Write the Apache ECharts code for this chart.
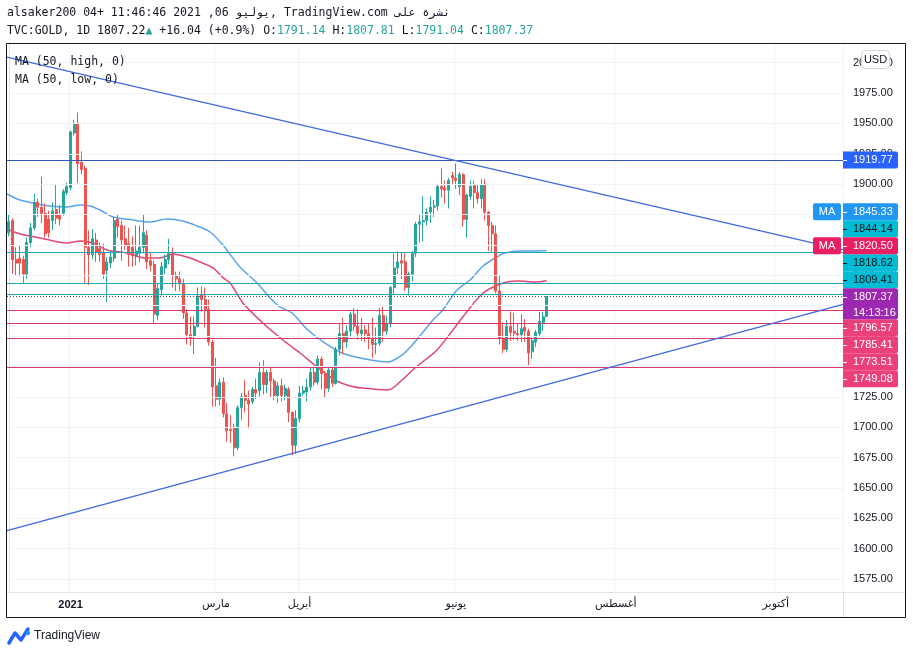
<!DOCTYPE html>
<html>
<head>
<meta charset="utf-8">
<script src="https://cdn.jsdelivr.net/npm/echarts@6/dist/echarts.min.js"></script>
<style>
  html, body { margin: 0; padding: 0; background: #fff; }
  #chart { width: 913px; height: 655px; }
</style>
</head>
<body>
<div id="chart"></div>
<script>
// daily candles TVC:GOLD, 2020-12-08 .. 2021-07-06  [open, close, low, high]
const ohlc = [
  [1860,1869,1857,1875],[1870,1838,1826,1872],[1838,1835,1825,1848],[1839,1835,1824,1849],
  [1838,1826,1818,1841],[1826,1852,1822,1856],[1852,1864,1848,1868],[1864,1885,1862,1892],
  [1885,1881,1873,1888],[1881,1876,1868,1906],[1876,1859,1856,1884],[1871,1860,1856,1878],
  [1870,1878,1862,1885],[1879,1872,1867,1900],[1875,1871,1866,1883],[1876,1894,1874,1896],
  [1893,1898,1891,1901],[1897,1943,1895,1944],[1942,1950,1940,1953],[1950,1917,1901,1959],
  [1918,1912,1908,1927],[1913,1848,1818,1915],[1848,1842,1817,1862],[1842,1855,1838,1863],
  [1854,1844,1836,1860],[1847,1842,1836,1852],[1844,1826,1822,1851],[1829,1836,1803,1840],
  [1835,1840,1831,1845],[1839,1870,1836,1873],[1871,1865,1856,1875],[1866,1854,1837,1870],
  [1855,1850,1846,1866],[1851,1842,1832,1864],[1848,1841,1832,1857],[1841,1845,1833,1866],
  [1843,1848,1836,1866],[1848,1860,1843,1875],[1858,1836,1830,1862],[1837,1833,1828,1844],
  [1834,1793,1785,1837],[1792,1814,1788,1818],[1813,1832,1808,1836],[1831,1838,1826,1842],
  [1838,1843,1834,1855],[1843,1825,1815,1848],[1825,1822,1812,1828],[1822,1818,1812,1828],
  [1818,1794,1789,1822],[1794,1776,1768,1797],[1776,1773,1767,1791],[1775,1783,1760,1791],
  [1783,1808,1782,1815],[1809,1805,1795,1816],[1805,1797,1782,1815],[1797,1770,1767,1805],
  [1770,1733,1717,1772],[1734,1723,1717,1757],[1723,1737,1718,1740],[1737,1711,1708,1741],
  [1711,1697,1688,1720],[1698,1697,1687,1710],[1700,1683,1676,1703],[1683,1716,1681,1718],
  [1716,1725,1706,1728],[1726,1722,1712,1739],[1722,1719,1699,1730],[1721,1731,1719,1733],
  [1731,1728,1723,1740],[1730,1745,1725,1753],[1745,1735,1727,1755],[1735,1745,1728,1747],
  [1745,1738,1725,1749],[1738,1726,1722,1740],[1726,1734,1720,1737],[1734,1726,1721,1740],
  [1726,1732,1722,1735],[1731,1712,1704,1733],[1712,1685,1677,1713],[1685,1707,1678,1714],
  [1707,1728,1704,1734],[1728,1730,1726,1734],[1729,1733,1721,1740],[1733,1745,1730,1750],
  [1745,1737,1734,1749],[1737,1756,1735,1759],[1756,1744,1731,1758],[1744,1732,1724,1746],
  [1732,1747,1729,1749],[1747,1736,1733,1750],[1736,1764,1735,1766],[1764,1777,1759,1785],
  [1777,1770,1760,1790],[1770,1779,1765,1784],[1779,1793,1774,1795],[1793,1783,1779,1798],
  [1783,1777,1772,1797],[1777,1780,1771,1790],[1780,1777,1770,1784],[1777,1773,1764,1785],
  [1773,1768,1757,1790],[1768,1769,1760,1782],[1769,1792,1767,1798],[1792,1779,1770,1799],
  [1779,1785,1776,1792],[1785,1815,1782,1816],[1815,1831,1809,1843],[1831,1836,1826,1845],
  [1837,1835,1822,1844],[1836,1815,1812,1843],[1815,1826,1808,1828],[1826,1843,1820,1845],
  [1843,1867,1840,1869],[1867,1869,1852,1875],[1869,1870,1853,1890],[1870,1877,1866,1880],
  [1877,1881,1868,1890],[1881,1882,1873,1887],[1882,1898,1878,1900],[1898,1896,1889,1913],
  [1897,1895,1884,1903],[1895,1903,1880,1905],[1907,1905,1900,1910],[1905,1903,1896,1917],
  [1898,1908,1891,1910],[1908,1871,1865,1909],[1871,1891,1856,1892],[1890,1898,1887,1903],
  [1899,1893,1880,1903],[1893,1888,1884,1900],[1888,1899,1880,1904],[1899,1877,1870,1904],
  [1877,1866,1845,1878],[1866,1859,1844,1869],[1859,1812,1810,1866],[1812,1773,1768,1825],
  [1773,1764,1761,1786],[1764,1783,1762,1788],[1783,1778,1771,1795],[1779,1777,1772,1794],
  [1777,1776,1771,1785],[1776,1781,1770,1793],[1782,1779,1770,1789],[1779,1761,1751,1781],
  [1762,1771,1756,1774],[1770,1778,1766,1780],[1777,1787,1774,1795],[1786,1791,1779,1795],
  [1791.14,1807.37,1791.04,1807.81]
];

// MA(50, high) and MA(50, low): [bar index, value]
const maHigh = [
  [-0.5,1891.9],[3.1,1886.9],[6.7,1884.5],[11.3,1882],[16,1881.2],[19.6,1882.8],[22.3,1882],
  [25.1,1878.7],[28.7,1872.9],[34.2,1870.5],[38.8,1868.8],[43.5,1871.3],[47.9,1869.6],
  [51.8,1865.5],[55.4,1860.6],[58.9,1849.9],[63.6,1831.8],[68.3,1818.6],[71.9,1806.3],
  [74.6,1798.9],[77.9,1793.9],[82.3,1779.9],[87,1769.2],[91.7,1761],[98,1756.1],
  [104.3,1753.6],[108.2,1759.4],[111.7,1770.1],[116.7,1788.2],[119.4,1796.4],[123.3,1812.9],
  [126.9,1821.1],[130.5,1832.6],[133.8,1839.2],[136.5,1843.3],[140.6,1845],[144.8,1845],
  [148,1845.33]
];
const maLow = [
  [-0.5,1863.1],[3.1,1859],[8.6,1855.7],[16,1851.5],[19.6,1853.2],[23.2,1851.5],[27,1845.8],
  [32.5,1843.3],[37.5,1839.2],[41.6,1839.2],[45.2,1842.5],[49,1840],[52.6,1835.9],
  [56.2,1831],[58.9,1823],[60.9,1818.6],[64.4,1802.2],[69.9,1785.7],[75.4,1771.7],
  [80.1,1761],[84.8,1749.5],[89.7,1738.8],[93.9,1733.9],[97.2,1732.2],[104.3,1730.6],
  [108.2,1738.8],[111.7,1748.7],[117.8,1763.5],[124.9,1790.6],[130.5,1810.4],[136,1818.6],
  [139.8,1820.3],[144.8,1819.5],[148,1820.5]
];

// trend lines, anchors in [bar index, price]
const trendDown = [[-0.5, 2004.6], [229.5, 1845.8]];
const trendUp = [[-0.5, 1614.9], [229.5, 1801.0]];

const levelValues = [1919.77, 1844.14, 1818.62, 1809.41, 1796.57, 1785.41, 1773.51, 1749.08];
const levelKinds = ['blue', 'teal', 'teal', 'teal', 'pink', 'pink', 'pink', 'pink'];
const lastPrice = 1807.37;
const countdown = '14:13:16';

const priceTicks = [1575, 1600, 1625, 1650, 1675, 1700, 1725, 1750, 1775, 1800, 1825,
  1850, 1875, 1900, 1925, 1950, 1975, 2000];
const monthTicks = [
  ['2021-01-04', '2021'], ['2021-03-01', 'مارس'], ['2021-04-01', 'أبريل'],
  ['2021-06-01', 'يونيو'], ['2021-08-02', 'أغسطس'], ['2021-10-01', 'أكتوبر']
];
const skipDays = ['2020-12-25', '2021-01-01'];
const SLOTS = 230;

// weekday calendar from the first candle, empty slots continue to the right
const dates = [];
const d = new Date(Date.UTC(2020, 11, 8));
while (dates.length < SLOTS) {
  const s = d.toISOString().slice(0, 10);
  const wd = d.getUTCDay();
  if (wd !== 0 && wd !== 6 && skipDays.indexOf(s) < 0) dates.push(s);
  d.setUTCDate(d.getUTCDate() + 1);
}
const monthLabel = {};
monthTicks.forEach(t => { monthLabel[t[0]] = t[1]; });

const UP = '#26a69a', DOWN = '#ef5350';
const MONO = 'DejaVu Sans Mono';
const SANS = 'Liberation Sans';

const chart = echarts.init(document.getElementById('chart'), null, { renderer: 'canvas' });

const option = {
  animation: false,
  grid: { left: 7, right: 70, top: 44, bottom: 63, containLabel: false, outerBoundsMode: 'none' },
  xAxis: [
    {
      type: 'category',
      data: dates,
      boundaryGap: true,
      axisLine: { lineStyle: { color: '#e0e3eb' } },
      axisTick: { show: false },
      axisLabel: {
        interval: (i, v) => monthLabel[v] !== undefined,
        formatter: v => v === '2021-01-04' ? '{b|2021}' : (monthLabel[v] || ''),
        color: '#131722',
        fontSize: 11,
        fontFamily: 'DejaVu Sans',
        margin: 7,
        rich: { b: { fontWeight: 'bold', fontSize: 11, fontFamily: SANS, color: '#131722' } }
      },
      splitLine: {
        show: true,
        interval: (i, v) => monthLabel[v] !== undefined,
        lineStyle: { color: '#f0f3fa' }
      }
    },
    { type: 'value', min: -0.5, max: SLOTS - 0.5, show: false }
  ],
  yAxis: {
    type: 'value',
    position: 'right',
    min: 1564.3,
    max: 2015.33,
    axisLine: { show: true, lineStyle: { color: '#e0e3eb' } },
    axisTick: { show: true, customValues: priceTicks, length: 4, lineStyle: { color: '#787b86' } },
    axisLabel: {
      customValues: priceTicks,
      formatter: v => v.toFixed(2),
      color: '#131722',
      fontSize: 11,
      fontFamily: SANS,
      margin: 10
    },
    splitLine: { show: false }
  },
  series: [
    {
      // horizontal grid
      type: 'line', xAxisIndex: 1, data: [], silent: true, z: 0,
      markLine: {
        silent: true, symbol: 'none', animation: false,
        label: { show: false },
        lineStyle: { color: '#f0f3fa', width: 1, type: 'solid' },
        data: priceTicks.map(v => ({ yAxis: v }))
      }
    },
    {
      name: 'MA (50, high, 0)', type: 'line', xAxisIndex: 1, data: maHigh,
      showSymbol: false, smooth: 0.3, silent: true, z: 2,
      lineStyle: { color: '#5aa5ea', width: 1.5 }
    },
    {
      name: 'MA (50, low, 0)', type: 'line', xAxisIndex: 1, data: maLow,
      showSymbol: false, smooth: 0.3, silent: true, z: 2,
      lineStyle: { color: '#e0457b', width: 1.5 }
    },
    {
      name: 'GOLD', type: 'candlestick', data: ohlc, barWidth: 2.5, z: 3,
      itemStyle: { color: UP, color0: DOWN, borderColor: UP, borderColor0: DOWN, borderWidth: 1 }
    },
    {
      // price levels
      type: 'line', xAxisIndex: 1, data: [], silent: true, z: 4,
      markLine: {
        silent: true, symbol: 'none', animation: false,
        label: { show: false },
        data: levelValues.map((v, k) => ({
          yAxis: v,
          lineStyle: {
            type: 'solid', width: 1,
            color: levelKinds[k] === 'blue' ? '#3456b0' : levelKinds[k] === 'teal' ? '#1ea7b8' : '#d63a6e'
          }
        })).concat([{ yAxis: lastPrice, lineStyle: { type: [1, 2], width: 1, color: '#4a4a55' } }])
      }
    },
    {
      type: 'line', xAxisIndex: 1, data: trendDown, showSymbol: false, silent: true, z: 5,
      lineStyle: { color: '#3f6ad8', width: 1.3 }
    },
    {
      type: 'line', xAxisIndex: 1, data: trendUp, showSymbol: false, silent: true, z: 5,
      lineStyle: { color: '#3f6ad8', width: 1.3 }
    }
  ]
};

chart.setOption(option);

// ---- overlay: header, legend, frame and price-scale labels ----
const LABEL_STYLE = {
  blue: { bg: '#2962ff', fg: '#ffffff' },
  teal: { bg: '#00bcd4', fg: '#131722' },
  pink: { bg: '#ec407a', fg: '#ffffff' },
  maHigh: { bg: '#2196f3', fg: '#ffffff', tag: 'MA' },
  maLow: { bg: '#e91e63', fg: '#ffffff', tag: 'MA' }
};

function txt(x, y, text, size, family, fill, extra) {
  return Object.assign({
    type: 'text', x: x, y: y, z: 70, silent: true,
    style: {
      text: text, fontSize: size, fontFamily: family, fill: fill,
      align: 'left', textAlign: 'left', verticalAlign: 'middle', textVerticalAlign: 'middle'
    }
  }, extra || {});
}

const gfx = [];
const last = ohlc[ohlc.length - 1];

gfx.push(txt(7, 13, 'alsaker200 04+ 11:46:46 2021 ,06 يوليو, TradingView.com نشرة على', 11.5, MONO, '#131722'));
const rk = { fontSize: 11.5, fontFamily: MONO, fill: '#131722' };
const rg = { fontSize: 11.5, fontFamily: MONO, fill: UP };
gfx.push({
  type: 'text', x: 7, y: 31, z: 70, silent: true,
  style: {
    text: '{k|TVC:GOLD, 1D 1807.22}{g|▲}{k| +16.04 (+0.9%) O:}{g|' + last[0].toFixed(2) +
      '}{k| H:}{g|' + last[3].toFixed(2) + '}{k| L:}{g|' + last[2].toFixed(2) +
      '}{k| C:}{g|' + last[1].toFixed(2) + '}',
    fontSize: 11.5, fontFamily: MONO, fill: '#131722',
    verticalAlign: 'middle', textVerticalAlign: 'middle',
    rich: { k: rk, g: rg }
  }
});
gfx.push(txt(15, 62, 'MA (50, high, 0)', 11.5, MONO, '#131722'));
gfx.push(txt(15, 80, 'MA (50, low, 0)', 11.5, MONO, '#131722'));

// frame and scale separators
gfx.push({ type: 'rect', z: 80, silent: true, shape: { x: 6.5, y: 43.5, width: 899, height: 574 },
  style: { fill: 'none', stroke: '#131722', lineWidth: 1 } });
gfx.push({ type: 'line', z: 60, silent: true, shape: { x1: 843.5, y1: 592, x2: 843.5, y2: 617 },
  style: { stroke: '#e0e3eb', lineWidth: 1 } });
gfx.push({ type: 'line', z: 60, silent: true, shape: { x1: 843, y1: 592.5, x2: 905, y2: 592.5 },
  style: { stroke: '#e0e3eb', lineWidth: 1 } });

// USD badge
gfx.push({ type: 'rect', z: 75, silent: true, shape: { x: 861.5, y: 50.5, width: 28, height: 18, r: 4 },
  style: { fill: '#ffffff', stroke: '#d1d4dc', lineWidth: 1 } });
gfx.push(txt(875.5, 60, 'USD', 11, SANS, '#131722', { style: {
  text: 'USD', fontSize: 11, fontFamily: SANS, fill: '#131722',
  align: 'center', textAlign: 'center', verticalAlign: 'middle', textVerticalAlign: 'middle' }, z: 76 }));

// price-scale labels, stacked so they do not overlap
const toY = v => chart.convertToPixel({ yAxisIndex: 0 }, v);
const H = 17;
const items = levelValues.map((v, k) => ({ v: v, kind: levelKinds[k] }));
items.push({ v: maHigh[maHigh.length - 1][1], kind: 'maHigh' });
items.push({ v: maLow[maLow.length - 1][1], kind: 'maLow' });
const yCur = toY(lastPrice);
const curTop = yCur - H / 2, curBot = curTop + 31;
const above = items.filter(o => o.v > lastPrice).sort((a, b) => a.v - b.v);
const below = items.filter(o => o.v < lastPrice).sort((a, b) => b.v - a.v);
let lim = curTop;
above.forEach(o => { o.y = Math.min(toY(o.v), lim - H / 2); lim = o.y - H / 2; });
lim = curBot;
below.forEach(o => { o.y = Math.max(toY(o.v), lim + H / 2); lim = o.y + H / 2; });

function priceBox(y, h, bg, fg, lines) {
  gfx.push({ type: 'rect', z: 90, silent: true, shape: { x: 843, y: y, width: 55, height: h, r: [0, 2, 2, 0] },
    style: { fill: bg } });
  const ty = Math.round(y + H / 2) + 0.5;
  gfx.push({ type: 'line', z: 91, silent: true, shape: { x1: 843, y1: ty, x2: 847, y2: ty },
    style: { stroke: fg, lineWidth: 1 } });
  lines.forEach((t, k) => gfx.push(txt(853, y + H / 2 + k * 16, t, 11, SANS, fg, { z: 92 })));
}

items.forEach(o => {
  const st = LABEL_STYLE[o.kind];
  priceBox(o.y - H / 2, H, st.bg, st.fg, [o.v.toFixed(2)]);
  if (st.tag) {
    gfx.push({ type: 'rect', z: 90, silent: true, shape: { x: 813, y: o.y - H / 2, width: 28, height: H, r: 2 },
      style: { fill: st.bg } });
    gfx.push({ type: 'text', x: 827, y: o.y, z: 92, silent: true, style: {
      text: st.tag, fontSize: 11, fontFamily: SANS, fill: st.fg,
      align: 'center', textAlign: 'center', verticalAlign: 'middle', textVerticalAlign: 'middle' } });
  }
});
priceBox(curTop, 31, '#9c27b0', '#ffffff', [lastPrice.toFixed(2), countdown]);

// TradingView mark
gfx.push({ type: 'polyline', z: 70, silent: true,
  shape: { points: [[9, 643], [15, 633], [21, 640], [28, 629]] },
  style: { stroke: '#2962ff', lineWidth: 3.5, fill: 'none', lineJoin: 'round', lineCap: 'round' } });
gfx.push({ type: 'circle', z: 70, silent: true, shape: { cx: 28, cy: 633, r: 2.2 }, style: { fill: '#2196f3' } });
gfx.push(txt(34, 636, 'TradingView', 12, SANS, '#131722'));

chart.setOption({ graphic: { elements: gfx } });
</script>
</body>
</html>
